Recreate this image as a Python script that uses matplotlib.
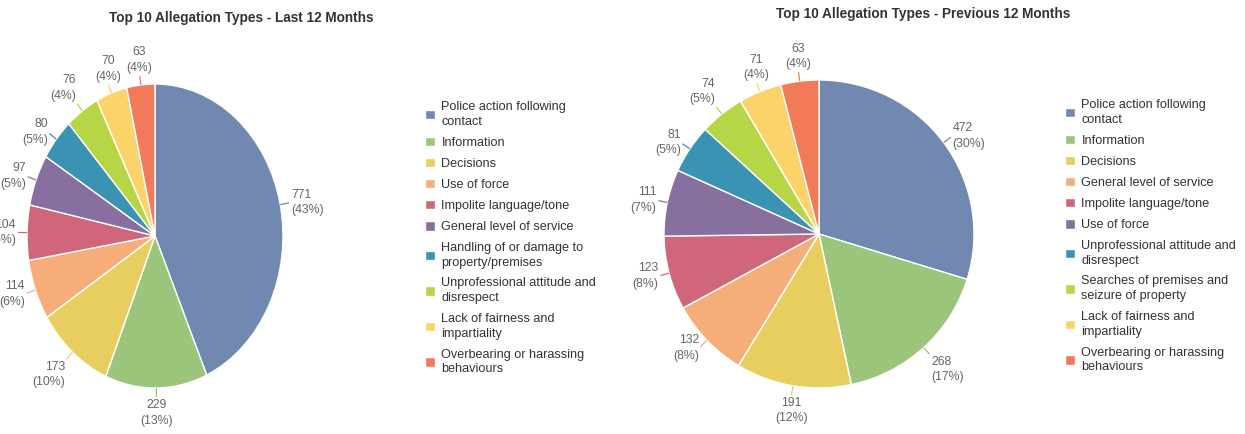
import numpy as np
import matplotlib.pyplot as plt

plt.rcParams['font.family'] = ['Liberation Sans', 'DejaVu Sans']

W, H = 1245, 434

# slice colours, same order in both charts
colours = ['#7189B1', '#9BC57A', '#E7CE5F', '#F6AD79', '#D0667A',
           '#876FA0', '#3A93B3', '#B6D646', '#FCD36B', '#F37A59']

last_labels = ['Police action following\ncontact', 'Information', 'Decisions',
               'Use of force', 'Impolite language/tone', 'General level of service',
               'Handling of or damage to\nproperty/premises',
               'Unprofessional attitude and\ndisrespect',
               'Lack of fairness and\nimpartiality',
               'Overbearing or harassing\nbehaviours']
last_values = [771, 229, 173, 114, 104, 97, 80, 76, 70, 63]

prev_labels = ['Police action following\ncontact', 'Information', 'Decisions',
               'General level of service', 'Impolite language/tone', 'Use of force',
               'Unprofessional attitude and\ndisrespect',
               'Searches of premises and\nseizure of property',
               'Lack of fairness and\nimpartiality',
               'Overbearing or harassing\nbehaviours']
prev_values = [472, 268, 191, 132, 123, 111, 81, 74, 71, 63]

fig = plt.figure(figsize=(W / 100, H / 100), dpi=100)


def px_axes(cx, cy, hw, hh):
    # axes placed in pixel units (origin top-left)
    return fig.add_axes([(cx - hw) / W, (H - cy - hh) / H, 2 * hw / W, 2 * hh / H])


def draw_pie(cx, cy, rx, ry, values, title, title_xy, labels, legend_xy):
    hw, hh = rx + 60, ry + 30
    ax = px_axes(cx, cy, hw, hh)
    wedges, _ = ax.pie(values, colors=colours, startangle=90, counterclock=False,
                       wedgeprops=dict(edgecolor='white', linewidth=1))
    ax.set_aspect('auto')
    ax.set_xlim(-hw / rx, hw / rx)
    ax.set_ylim(-hh / ry, hh / ry)
    ax.axis('off')

    total = sum(values)
    L = 9  # leader length, px
    for w, v, c in zip(wedges, values, colours):
        a = np.deg2rad((w.theta1 + w.theta2) / 2)
        ca, sa = np.cos(a), np.sin(a)
        x0, y0 = ca, sa
        x1, y1 = ca * (1 + L / rx), sa * (1 + L / ry)
        ax.plot([x0, x1], [y0, y1], color=c, lw=0.9, solid_capstyle='butt',
                clip_on=False)
        ha = 'left' if ca > 0.4 else ('right' if ca < -0.4 else 'center')
        va = 'bottom' if sa > 0.7 else ('top' if sa < -0.7 else 'center')
        ax.annotate('%d\n(%d%%)' % (v, round(100 * v / total)), xy=(x1, y1),
                    xytext=(ca * 1.5, sa * 1.5), textcoords='offset points',
                    ha=ha, va=va, multialignment=ha,
                    fontsize=8.8, color='#666666', linespacing=1.4,
                    annotation_clip=False)

    fig.text(title_xy[0] / W, 1 - title_xy[1] / H, title, ha='center', va='center',
             fontsize=9.8, fontweight='bold', color='#333333')

    leg = fig.legend(wedges, labels, loc='upper left',
                     bbox_to_anchor=(legend_xy[0] / W, 1 - legend_xy[1] / H),
                     frameon=False, fontsize=9.1, labelcolor='#333333',
                     handlelength=0.8, handleheight=0.8, handletextpad=0.5,
                     labelspacing=0.7, borderpad=0, borderaxespad=0)
    for t in leg.get_texts():
        t.set_linespacing(1.3)


draw_pie(155, 236, 128, 152, last_values,
         'Top 10 Allegation Types - Last 12 Months', (241, 18),
         last_labels, (425, 101))
draw_pie(819, 234, 155, 154, prev_values,
         'Top 10 Allegation Types - Previous 12 Months', (923, 14),
         prev_labels, (1065, 99))

fig.savefig('out.png', dpi=100)
